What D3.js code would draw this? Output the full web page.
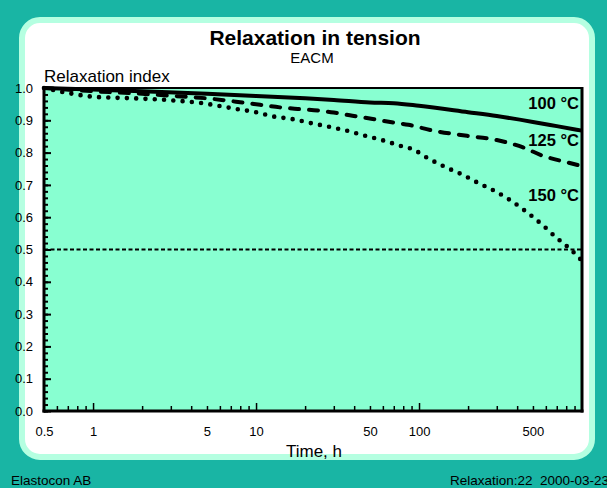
<!DOCTYPE html>
<html>
<head>
<meta charset="utf-8">
<script src="https://cdn.jsdelivr.net/npm/d3@7"></script>
<style>
  html, body { margin: 0; padding: 0; background: #19b5a4; }
  svg { display: block; font-family: "Liberation Sans", Arial, Helvetica, sans-serif; }
</style>
</head>
<body>
<svg id="chart" width="607" height="488"></svg>
<script>
// Relaxation index vs. time (hours) for EACM at three temperatures
const seriesNames = ["100 °C", "125 °C", "150 °C"];

const time100 = [0.5, 1, 2, 5, 10, 20, 30, 50, 70, 100, 200, 300, 500, 700, 1000];
const value100 = [1.0, 0.995, 0.99, 0.982, 0.975, 0.968, 0.963, 0.955, 0.953, 0.945, 0.925, 0.913, 0.895, 0.882, 0.868];

const time125 = [0.5, 1, 2, 3, 5, 8, 10.6, 14, 18, 24, 30, 39, 52, 68, 86, 122, 197, 300, 435, 576, 809, 1000];
const value125 = [1.0, 0.99, 0.982, 0.976, 0.968, 0.956, 0.948, 0.94, 0.935, 0.93, 0.924, 0.914, 0.904, 0.894, 0.886, 0.868, 0.852, 0.839, 0.816, 0.79, 0.77, 0.758];

const time150 = [0.5, 0.75, 1, 2, 3, 4.5, 7.6, 10, 12.7, 16.6, 21.4, 28, 36.6, 47, 61, 78, 91, 113, 144, 184, 233, 297, 372, 460, 569, 692, 844, 1000];
const value150 = [1.0, 0.982, 0.973, 0.967, 0.962, 0.954, 0.935, 0.925, 0.912, 0.904, 0.892, 0.88, 0.867, 0.852, 0.837, 0.82, 0.811, 0.783, 0.756, 0.732, 0.705, 0.679, 0.649, 0.615, 0.577, 0.538, 0.502, 0.465];

const referenceLevel = 0.5;

const xTickValues = [0.5, 1, 5, 10, 50, 100, 500];
const xTickLabels = ["0.5", "1", "5", "10", "50", "100", "500"];
const yTickValues = [0, 0.1, 0.2, 0.3, 0.4, 0.5, 0.6, 0.7, 0.8, 0.9, 1.0];

const svg = d3.select("#chart");

// page background and rounded panel
svg.append("rect").attr("width", 607).attr("height", 488).attr("fill", "#19b5a4");
svg.append("rect")
  .attr("x", 22).attr("y", 20).attr("width", 570).attr("height", 437)
  .attr("rx", 18).attr("ry", 18)
  .attr("fill", "#ffffff").attr("stroke", "#b5ffe1").attr("stroke-width", 6);

const plot = { left: 44, right: 582, top: 88, bottom: 411 };

const x = d3.scaleLog().domain([0.5, 1000]).range([plot.left, plot.right]);
const y = d3.scaleLinear().domain([0, 1]).range([plot.bottom, plot.top]);

// plot background
svg.append("rect")
  .attr("x", plot.left).attr("y", plot.top)
  .attr("width", plot.right - plot.left).attr("height", plot.bottom - plot.top)
  .attr("fill", "#88ffd1");

// minor/major ticks drawn inward
const yMinor = d3.range(0, 1.0001, 0.02);
const yAxis = d3.axisLeft(y).tickValues(yMinor)
  .tickSize(-4).tickFormat("");
svg.append("g").attr("transform", `translate(${plot.left},0)`).call(yAxis)
  .call(g => g.select(".domain").remove())
  .call(g => g.selectAll("line").attr("stroke", "#000").attr("stroke-width", 2));
const yAxisMajor = d3.axisLeft(y).tickValues(yTickValues)
  .tickSize(-7).tickPadding(11).tickFormat(d3.format(".1f"));
svg.append("g").attr("transform", `translate(${plot.left},0)`).call(yAxisMajor)
  .call(g => g.select(".domain").remove())
  .call(g => g.selectAll("line").attr("stroke", "#000").attr("stroke-width", 2))
  .call(g => g.selectAll("text").attr("font-size", 13).attr("fill", "#000")
    .attr("font-family", "'Liberation Sans', Arial, sans-serif"));

const xMinor = [];
[0.1, 1, 10, 100].forEach(dec => {
  for (let k = 1; k <= 9; k++) {
    const v = dec * k;
    if (v > 0.5 && v < 1000 && k !== 1) xMinor.push(v);
  }
});
const xMajor = [1, 10, 100];
svg.append("g").attr("transform", `translate(0,${plot.bottom})`)
  .call(d3.axisBottom(x).tickValues(xMinor).tickSize(-5).tickFormat(""))
  .call(g => g.select(".domain").remove())
  .call(g => g.selectAll("line").attr("stroke", "#000").attr("stroke-width", 1.5));
svg.append("g").attr("transform", `translate(0,${plot.bottom})`)
  .call(d3.axisBottom(x).tickValues(xMajor).tickSize(-8).tickFormat(""))
  .call(g => g.select(".domain").remove())
  .call(g => g.selectAll("line").attr("stroke", "#000").attr("stroke-width", 1.5));
svg.append("g").attr("transform", `translate(0,${plot.bottom})`)
  .call(d3.axisBottom(x).tickValues(xTickValues).tickSize(0).tickPadding(16)
    .tickFormat((d, i) => xTickLabels[i]))
  .call(g => g.select(".domain").remove())
  .call(g => g.selectAll("text").attr("font-size", 13).attr("fill", "#000")
    .attr("font-family", "'Liberation Sans', Arial, sans-serif"));

// reference line at 0.5
svg.append("line")
  .attr("x1", plot.left).attr("x2", plot.right)
  .attr("y1", y(referenceLevel)).attr("y2", y(referenceLevel))
  .attr("stroke", "#000").attr("stroke-width", 2).attr("stroke-dasharray", "4 2.5");

// curves
const line = d3.line().x(d => x(d[0])).y(d => y(d[1])).curve(d3.curveMonotoneX);
const series = [
  { t: time100, v: value100, dash: null, cap: "butt" },
  { t: time125, v: value125, dash: "9 10", cap: "round" },
  { t: time150, v: value150, dash: "0 9.3", cap: "round" }
];
series.forEach(s => {
  const pts = s.t.map((t, i) => [t, s.v[i]]);
  const p = svg.append("path").attr("d", line(pts))
    .attr("fill", "none").attr("stroke", "#000")
    .attr("stroke-width", s.cap === "round" && !s.dash.startsWith("9") ? 4.6 : 4)
    .attr("stroke-linecap", s.cap);
  if (s.dash) p.attr("stroke-dasharray", s.dash);
});

// frame
svg.append("line").attr("x1", plot.left).attr("x2", plot.right).attr("y1", plot.top).attr("y2", plot.top)
  .attr("stroke", "#000").attr("stroke-width", 2);
svg.append("line").attr("x1", plot.right).attr("x2", plot.right).attr("y1", plot.top - 1).attr("y2", plot.bottom + 1.5)
  .attr("stroke", "#000").attr("stroke-width", 3);
svg.append("line").attr("x1", plot.left).attr("x2", plot.left).attr("y1", plot.top - 1).attr("y2", plot.bottom + 1.5)
  .attr("stroke", "#000").attr("stroke-width", 3);
svg.append("line").attr("x1", plot.left - 1.5).attr("x2", plot.right + 1.5).attr("y1", plot.bottom).attr("y2", plot.bottom)
  .attr("stroke", "#000").attr("stroke-width", 3);

// series labels
const labelY = [value100, value125, value150];
const labelPos = [109, 146, 201];
seriesNames.forEach((name, i) => {
  svg.append("text").attr("x", 579).attr("y", labelPos[i])
    .attr("text-anchor", "end").attr("font-size", 16.5).attr("font-weight", "bold")
    .text(name);
});

// titles
svg.append("text").attr("x", 315).attr("y", 45).attr("text-anchor", "middle")
  .attr("font-size", 21).attr("font-weight", "bold").text("Relaxation in tension");
svg.append("text").attr("x", 312).attr("y", 63).attr("text-anchor", "middle")
  .attr("font-size", 15).text("EACM");
svg.append("text").attr("x", 44).attr("y", 82)
  .attr("font-size", 17).text("Relaxation index");
svg.append("text").attr("x", 314).attr("y", 457).attr("text-anchor", "middle")
  .attr("font-size", 17).text("Time, h");

// footer
svg.append("text").attr("x", 11).attr("y", 485).attr("font-size", 13.5).text("Elastocon AB");
svg.append("text").attr("x", 450).attr("y", 485).attr("font-size", 13.5)
  .attr("xml:space", "preserve").style("white-space", "pre").text("Relaxation:22  2000-03-23");
</script>
</body>
</html>
